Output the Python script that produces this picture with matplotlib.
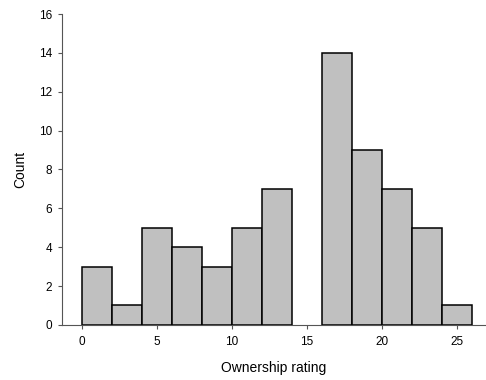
import numpy as np
import matplotlib.pyplot as plt

plt.rcParams['font.family'] = ['Liberation Sans', 'DejaVu Sans']

# histogram bins (width 2) and their counts
bin_edges = [0, 2, 4, 6, 8, 10, 12, 14, 16, 18, 20, 22, 24, 26]
counts = [3, 1, 5, 4, 3, 5, 7, 0, 14, 9, 7, 5, 1]
xticks = [0, 5, 10, 15, 20, 25]
yticks = [0, 2, 4, 6, 8, 10, 12, 14, 16]

fig = plt.figure(figsize=(4.86, 3.8), dpi=100)
ax = fig.add_axes([0.127, 0.145, 0.871, 0.818])

left = np.array(bin_edges[:-1])
widths = np.diff(bin_edges)
heights = np.array(counts)
keep = heights > 0
ax.bar(left[keep], heights[keep], width=widths[keep], align='edge',
       color='#c0c0c0', edgecolor='black', linewidth=1.1)

ax.set_xlim(-1.33, 26.9)
ax.set_ylim(0, 16)
ax.set_xticks(xticks)
ax.set_yticks(yticks)
ax.spines['top'].set_visible(False)
ax.spines['right'].set_visible(False)
for s in ['left', 'bottom']:
    ax.spines[s].set_color('#555555')
    ax.spines[s].set_linewidth(0.8)
ax.tick_params(direction='out', length=2.8, width=0.8, color='#555555',
               labelsize=8.5)
ax.tick_params(axis='y', pad=4.2)
ax.tick_params(axis='x', pad=5.5)

ax.set_xlabel('Ownership rating', fontsize=10, labelpad=9)
ax.set_ylabel('Count', fontsize=10, labelpad=8)

fig.savefig('out.png', dpi=100)
